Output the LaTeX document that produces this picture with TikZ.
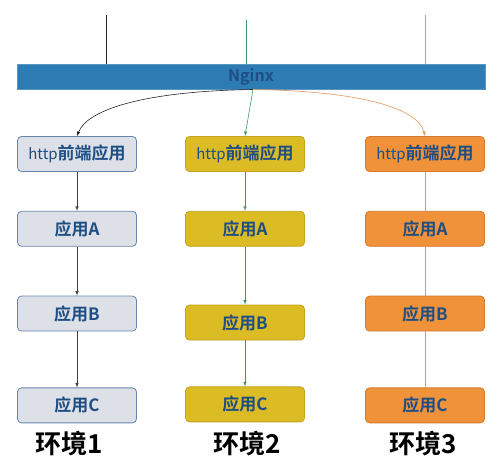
\documentclass[tikz,border=0pt]{standalone}
\usepackage{fontspec}
\setmainfont{Noto Sans CJK SC}[BoldFont={Noto Sans CJK SC Bold}]
\usetikzlibrary{positioning,arrows}
\definecolor{ngxblue}{HTML}{2E7CB4}
\definecolor{txtblue}{HTML}{1F4E85}
\definecolor{grayfill}{HTML}{DDE1E7}
\definecolor{grayedge}{HTML}{6686AE}
\definecolor{goldfill}{HTML}{DCBC24}
\definecolor{goldedge}{HTML}{C4A41C}
\definecolor{orgfill}{HTML}{F0923A}
\definecolor{orgedge}{HTML}{D47A2C}
\definecolor{lnkgreen}{HTML}{3F9A5E}
\definecolor{lnkorange}{HTML}{E8935A}
\tikzstyle{app}=[draw,rounded corners=4pt,minimum width=119pt,minimum height=35pt,
  font=\fontsize{17}{17}\selectfont\bfseries,text=txtblue,line width=0.8pt]
\tikzstyle{env}=[font=\fontsize{26}{26}\selectfont\bfseries]
\newcommand{\newApp}[4]{\node[app,#3](#1)[#4]{#2};}
\newcommand{\newLink}[3]{\path[#3] (#1) edge (#2);}
\newcommand{\http}{{\fontsize{15}{15}\selectfont\mdseries http}}

\begin{document}
\begin{tikzpicture}[x=1pt,y=-1pt,
      >=latex,semithick
      ]
      \useasboundingbox (0,0) rectangle (499,470);
      \node[fill=ngxblue,draw=ngxblue!80,minimum width=468pt,minimum height=25pt,
        font=\fontsize{16}{16}\selectfont\bfseries,text=txtblue] (ngx) at (251,76.5) {Nginx};

      % environment 1
      \newApp{h1}{\http 前端应用}{fill=grayfill,draw=grayedge}{at={(77,154)}}
      \newApp{a1}{应用A}{fill=grayfill,draw=grayedge}{below=39pt of h1}
      \newApp{b1}{应用B}{fill=grayfill,draw=grayedge}{below=49pt of a1}
      \newApp{c1}{应用C}{fill=grayfill,draw=grayedge}{below=56pt of b1}
      % environment 2
      \newApp{h2}{\http 前端应用}{fill=goldfill,draw=goldedge}{at={(245,154)}}
      \newApp{a2}{应用A}{fill=goldfill,draw=goldedge}{below=39pt of h2}
      \newApp{b2}{应用B}{fill=goldfill,draw=goldedge}{below=58pt of a2}
      \newApp{c2}{应用C}{fill=goldfill,draw=goldedge}{below=46pt of b2}
      % environment 3
      \newApp{h3}{\http 前端应用}{fill=orgfill,draw=orgedge}{at={(425,154)}}
      \newApp{a3}{应用A}{fill=orgfill,draw=orgedge}{below=39pt of h3}
      \newApp{b3}{应用B}{fill=orgfill,draw=orgedge}{below=49pt of a3}
      \newApp{c3}{应用C}{fill=orgfill,draw=orgedge}{below=56pt of b3}

      \node[env] (e1) at (69,444) {环境1};
      \node[env] (e2) at (247,444) {环境2};
      \node[env] (e3) at (423,444) {环境3};

      % incoming lines
      \coordinate (in1) at (106,15);
      \coordinate (in2) at (246,20);
      \coordinate (in3) at (425,15);
      \draw[black!85] (in1) -- (in1 |- ngx.north);
      \draw[lnkgreen] (in2) -- (in2 |- ngx.north);
      \draw[lnkorange] (in3) -- (in3 |- ngx.north);

      % nginx to front ends
      \coordinate (src) at (253,89.5);
      \draw[->,black!85] (src) .. controls (150,91) and (88,108) .. (h1.north);
      \draw[->,lnkgreen] (src) -- (h2.north);
      \draw[->,lnkorange] (src) .. controls (360,91) and (418,108) .. (h3.north);

      \newLink{h1}{a1}{->,black!75}
      \newLink{a1}{b1}{->,black!75}
      \newLink{b1}{c1}{->,black!75}
      \newLink{h2}{a2}{->,lnkgreen}
      \newLink{a2}{b2}{->,lnkgreen}
      \newLink{b2}{c2}{->,lnkgreen}
      \newLink{h3}{a3}{lnkorange}
      \newLink{a3}{b3}{lnkorange}
      \newLink{b3}{c3}{lnkorange}
    \end{tikzpicture}
\end{document}
